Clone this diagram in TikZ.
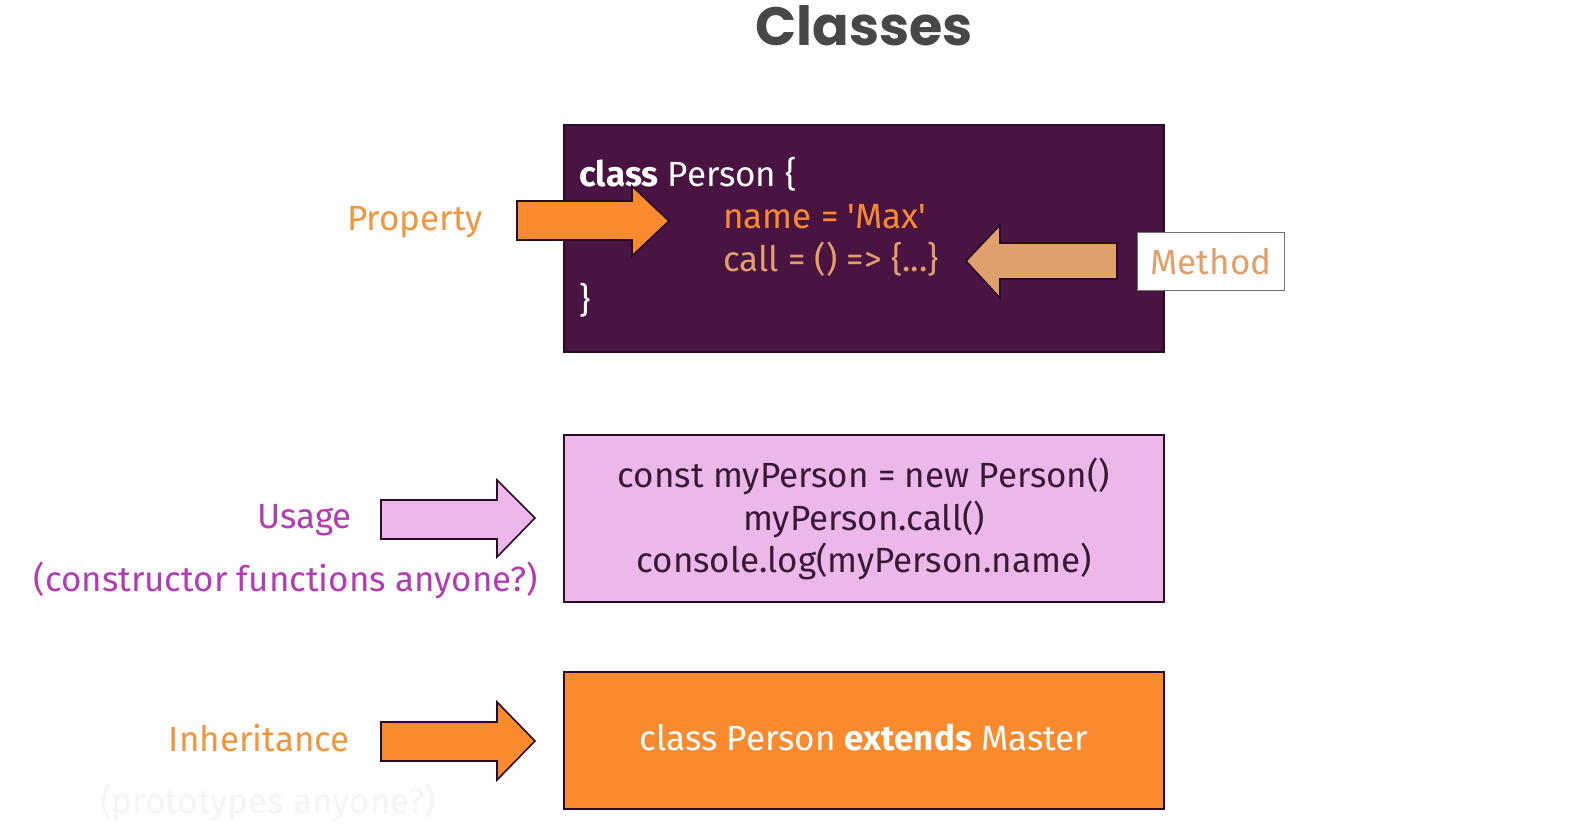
\documentclass[tikz,border=0pt]{standalone}
\usepackage{fontspec}
\setmainfont{Fira Sans}
\newfontfamily\titlefont{Poppins}
\usetikzlibrary{positioning}

\definecolor{plum}{HTML}{4A1442}
\definecolor{edge}{HTML}{2A0A28}
\definecolor{carrot}{HTML}{F98B2E}
\definecolor{labelorange}{HTML}{F0963E}
\definecolor{tan}{HTML}{DFA06C}
\definecolor{lilac}{HTML}{ECB8EA}
\definecolor{magenta}{HTML}{B23CB2}
\definecolor{inkpurple}{HTML}{3A1838}

\begin{document}
\begin{tikzpicture}[x=1pt, y=-1pt, codebox/.style={draw=edge, line width=1.6pt}, blockarrow/.style={draw=edge, line width=1.6pt, line join=miter}, txt/.style={font=\fontsize{35}{40}\selectfont, inner sep=0pt}, code/.style={txt, anchor=base west}, side/.style={txt, anchor=base east}]

\useasboundingbox[fill=white] (0,0) rectangle (1574,824);
\node[font=\titlefont\bfseries\fontsize{54}{58}\selectfont, text=black!72, inner sep=0pt, anchor=base] (title) at (864,46) {Classes};

% class definition
\draw[codebox, fill=plum] (564,125) rectangle (1164,352); \node[code, text=white] (head) at (579,186) {\textbf{class} Person \{};
\node[code, text=carrot] (prop) at (723,228) {name = \textquotesingle Max\textquotesingle}; \node[code, text=tan] (meth) at (723,271) {call = () => \{...\}}; \node[code, text=white] (close) at (579,312) {\}};
\draw[blockarrow, fill=carrot] (517,201) -- (632,201) -- (632,186) -- (669,221) -- (632,256) -- (632,240) -- (517,240) -- cycle; \node[side, text=labelorange] (property) at (483,230) {Property};
\draw[blockarrow, fill=tan] (1117,243) -- (1000,243) -- (1000,225) -- (966,261) -- (1000,298) -- (1000,279) -- (1117,279) -- cycle;
\node[draw=black!55, line width=1pt, fill=white, text=tan, txt, minimum width=147, minimum height=58, anchor=north west] (method) at (1137,232) {Method};

% usage
\draw[codebox, fill=lilac] (564,435) rectangle (1164,602); \node[txt, text=inkpurple, anchor=base] (use1) at (864,487) {const myPerson = new Person()};
\node[txt, text=inkpurple, anchor=base] (use2) at (864,530) {myPerson.call()}; \node[txt, text=inkpurple, anchor=base] (use3) at (864,572) {console.log(myPerson.name)};
\draw[blockarrow, fill=lilac] (381,500) -- (497,500) -- (497,480) -- (535,518) -- (497,557) -- (497,539) -- (381,539) -- cycle;
\node[side, text=magenta] (usage) at (352,528) {Usage}; \node[side, text=magenta] (ctor) at (538,591) {(constructor functions anyone?)};

% inheritance
\draw[codebox, fill=carrot] (564,672) rectangle (1164,809); \node[txt, text=white, anchor=base] (ext) at (864,750) {class Person \textbf{extends} Master};
\draw[blockarrow, fill=carrot] (381,722) -- (497,722) -- (497,702) -- (535,741) -- (497,780) -- (497,761) -- (381,761) -- cycle;
\node[side, text=labelorange] (inherit) at (350,751) {Inheritance}; \node[txt, text=black!4, anchor=base] (proto) at (268,813) {(prototypes anyone?)};
\end{tikzpicture}
\end{document}
